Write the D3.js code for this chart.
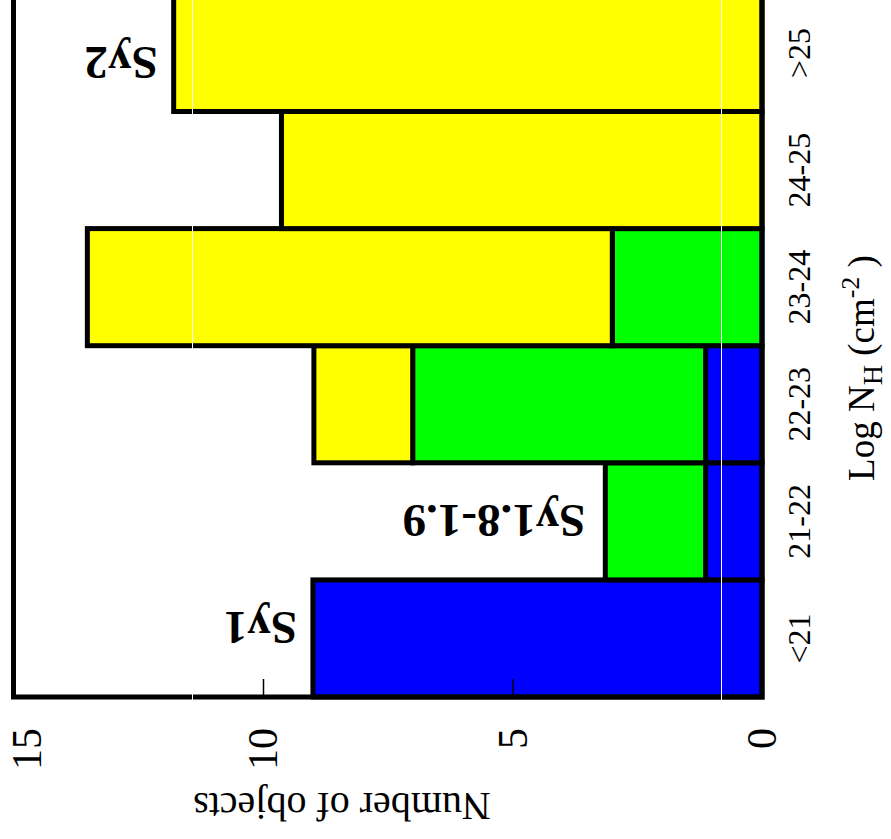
<!DOCTYPE html>
<html>
<head>
<meta charset="utf-8">
<script src="https://cdn.jsdelivr.net/npm/d3@7"></script>
<style>
  html, body { margin: 0; padding: 0; background: #fff; }
  svg { display: block; }
  text { font-family: "Liberation Serif", "Times New Roman", serif; fill: #000; }
</style>
</head>
<body>
<svg id="chart" width="891" height="839"></svg>
<script>
// Column density bins (log N_H, cm^-2)
const categories = ["<21", "21-22", "22-23", "23-24", "24-25", ">25"];

// Number of objects per bin, by Seyfert class (stacked)
const sy1Counts   = [9, 1.13, 1.13, 0, 0, 0];
const sy18Counts  = [0, 2.01, 5.87, 3.0, 0, 0];
const sy2Counts   = [0, 0, 1.98, 10.52, 9.63, 11.79];

const seriesKeys   = ["sy1", "sy18", "sy2"];
const seriesNames  = ["Sy1", "Sy1.8-1.9", "Sy2"];
const seriesColors = ["#0000ff", "#00ff00", "#ffff00"];

const valueTicks = [0, 5, 10, 15];

const rows = categories.map((c, i) => ({
  cat: c, sy1: sy1Counts[i], sy18: sy18Counts[i], sy2: sy2Counts[i]
}));

const svg = d3.select("#chart");

// Value axis runs right-to-left along the bottom, bins stack bottom-to-top
const x = d3.scaleLinear().domain([0, 15]).range([762, 13.5]);
const y = d3.scaleBand().domain(categories).range([697, -5.6]).paddingInner(0).paddingOuter(0);

const stacked = d3.stack().keys(seriesKeys)(rows);

const g = svg.append("g");

stacked.forEach((layer, li) => {
  g.append("g")
    .selectAll("rect")
    .data(layer.filter(d => d[1] - d[0] > 0))
    .join("rect")
    .attr("x", d => x(d[1]))
    .attr("width", d => x(d[0]) - x(d[1]))
    .attr("y", d => y(d.data.cat))
    .attr("height", y.bandwidth())
    .attr("fill", seriesColors[li])
    .attr("stroke", "#000")
    .attr("stroke-width", 5);
});

// Plot frame
g.append("rect")
  .attr("x", x(15))
  .attr("y", -20)
  .attr("width", x(0) - x(15))
  .attr("height", y.range()[0] + 20)
  .attr("fill", "none")
  .attr("stroke", "#000")
  .attr("stroke-width", 5);

// Value axis: inward ticks, rotated labels
const axis = d3.axisBottom(x).tickValues(valueTicks).tickSize(-18).tickFormat(d3.format("d"));
const ax = svg.append("g")
  .attr("transform", `translate(0, ${y.range()[0]})`)
  .call(axis);
ax.select(".domain").remove();
ax.selectAll(".tick line").attr("stroke", "#000").attr("stroke-width", 1.5);
ax.selectAll(".tick text").remove();

svg.append("g")
  .selectAll("text")
  .data(valueTicks)
  .join("text")
  .attr("transform", d => `translate(${Math.max(x(d), 27) + 14}, 728) rotate(-90)`)
  .attr("text-anchor", "end")
  .attr("font-size", 42)
  .text(d => d);

// Bin labels
svg.append("g")
  .selectAll("text")
  .data(categories)
  .join("text")
  .attr("transform", d => `translate(810, ${y(d) + y.bandwidth() / 2}) rotate(-90)`)
  .attr("text-anchor", "middle")
  .attr("font-size", 32)
  .text(d => d);

// Axis titles
const ttl = svg.append("text")
  .attr("transform", "translate(874, 368) rotate(-90)")
  .attr("text-anchor", "middle")
  .attr("font-size", 37);
ttl.append("tspan").text("Log N");
ttl.append("tspan").attr("font-size", 28).attr("dy", 8).text("H");
ttl.append("tspan").attr("dy", -8).text(" (cm");
ttl.append("tspan").attr("font-size", 26).attr("dy", -15).text("-2");
ttl.append("tspan").attr("dy", 15).text(" )");

svg.append("text")
  .attr("transform", "translate(342, 793) rotate(180)")
  .attr("text-anchor", "middle")
  .attr("font-size", 40)
  .text("Number of objects");

// Class labels next to their bars
const totals = rows.map(r => r.sy1 + r.sy18 + r.sy2);
const classLabels = [
  { text: seriesNames[0], cat: "<21",   dx: -16, dy: 32.5 },
  { text: seriesNames[1], cat: "21-22", dx: -20, dy: 42 },
  { text: seriesNames[2], cat: ">25",   dx: -16, dy: 52.6 }
];
svg.append("g")
  .selectAll("text")
  .data(classLabels)
  .join("text")
  .attr("transform", d => {
    const i = categories.indexOf(d.cat);
    return `translate(${x(totals[i]) + d.dx}, ${y(d.cat) + d.dy}) rotate(180)`;
  })
  .attr("text-anchor", "start")
  .attr("font-size", 47)
  .attr("font-weight", "bold")
  .text(d => d.text);

// Thin light seams crossing the plot
svg.append("g")
  .selectAll("line")
  .data([192.5, 721.5])
  .join("line")
  .attr("x1", d => d).attr("x2", d => d)
  .attr("y1", 0).attr("y2", 700)
  .attr("stroke", "#fff")
  .attr("stroke-width", 1);
</script>
</body>
</html>
